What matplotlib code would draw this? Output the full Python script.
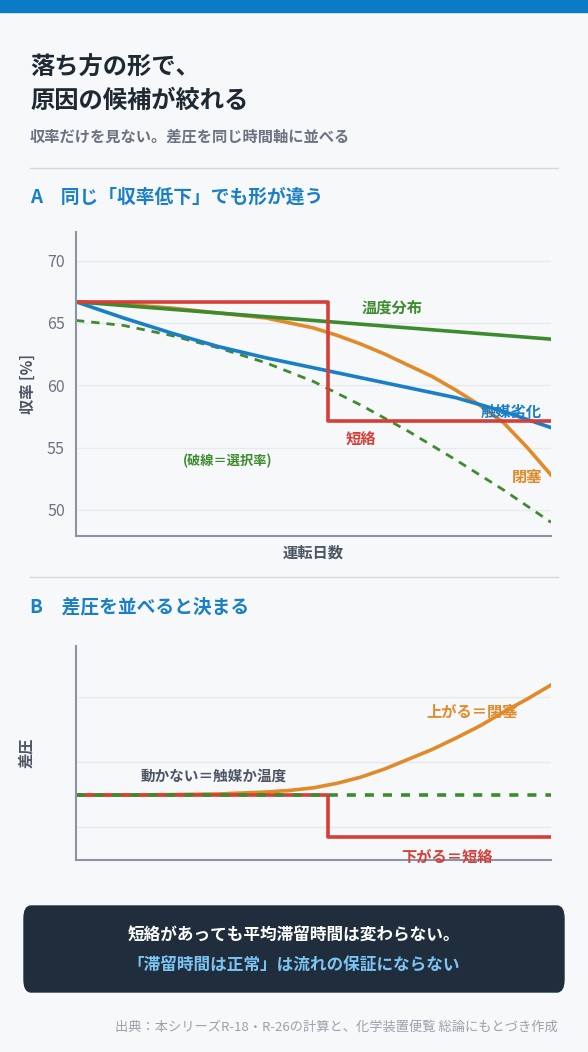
import matplotlib
matplotlib.use("Agg")
import matplotlib.pyplot as plt
from matplotlib.patches import FancyBboxPatch, Rectangle
from matplotlib.lines import Line2D

plt.rcParams['font.family'] = ['Noto Sans CJK JP', 'DejaVu Sans']

days = [0, 10, 20, 30, 40, 50, 60, 70, 80, 90, 100]
days_fine = [0, 10, 20, 30, 40, 45, 50, 55, 60, 65, 70, 75, 80, 85, 90, 95, 100]
temp_dist = [66.7, 66.4, 66.1, 65.8, 65.5, 65.2, 64.9, 64.6, 64.3, 64.0, 63.7]
cat_deact = [66.7, 65.4, 64.2, 63.1, 62.2, 61.4, 60.6, 59.8, 59.0, 57.9, 56.6]
clogging = [66.7, 66.5, 66.2, 65.8, 65.4, 65.0, 64.6, 64.0, 63.3, 62.5, 61.6, 60.7, 59.6, 58.4, 57.0, 55.0, 52.8]
selectivity = [65.2, 64.8, 64.0, 63.0, 61.8, 60.3, 58.4, 56.3, 54.0, 51.6, 49.0]
short_x = [0, 53, 53, 100]
short_y = [66.7, 66.7, 57.1, 57.1]
dp_clog = [0, 0, 0.01, 0.03, 0.09, 0.14, 0.22, 0.36, 0.55, 0.8, 1.1, 1.4, 1.75, 2.12, 2.55, 2.95, 3.38]
dp_flat = [0] * 11
dp_short_y = [0, 0, -1.3, -1.3]

BLUE = '#1a7fc6'; GREEN = '#3d8b2f'; ORANGE = '#e08a2a'; RED = '#d43f3a'
DARK = '#1f2933'; GRAY = '#6b7280'; AX = '#8a94a3'; BG = '#f7f8fa'

W, H = 588, 1052
fig = plt.figure(figsize=(W/100, H/100), dpi=100, facecolor=BG)

def fy(y): return 1 - y / H
def fx(x): return x / W

fig.patches.append(Rectangle((0, fy(12)), 1, 12/H, transform=fig.transFigure, color='#0a7cc6'))
fig.text(fx(30), fy(68), '落ち方の形で、', fontsize=17.5, weight='bold', color=DARK, va='center')
fig.text(fx(30), fy(101), '原因の候補が絞れる', fontsize=17.5, weight='bold', color=DARK, va='center')
fig.text(fx(30), fy(137), '収率だけを見ない。差圧を同じ時間軸に並べる', fontsize=11, color=GRAY, va='center', weight='bold')
for yy in (168, 577):
    fig.add_artist(Line2D([fx(30), fx(558)], [fy(yy), fy(yy)], color='#d5d9df', lw=1))
fig.text(fx(30), fy(197), 'A　同じ「収率低下」でも形が違う', fontsize=13.5, weight='bold', color=BLUE, va='center')
fig.text(fx(30), fy(607), 'B　差圧を並べると決まる', fontsize=13.5, weight='bold', color=BLUE, va='center')

def style(ax):
    ax.set_facecolor(BG)
    for s in ('top', 'right'):
        ax.spines[s].set_visible(False)
    for s in ('left', 'bottom'):
        ax.spines[s].set_color(AX); ax.spines[s].set_linewidth(1.5)
    ax.grid(axis='y', color='#e6e9ee', lw=1)
    ax.set_axisbelow(True)
    ax.set_xticks([])
    ax.set_xlim(0, 100)

# Chart A
axA = fig.add_axes([fx(76), fy(536), fx(551-76), (536-232)/H])
style(axA)
axA.set_ylim(47.9, 72.3)
axA.set_yticks([50, 55, 60, 65, 70])
axA.tick_params(axis='y', length=0, labelsize=11.5, labelcolor=GRAY, pad=8)
axA.plot(days, selectivity, color=GREEN, lw=2, ls=(0, (3, 2.5)))
axA.plot(days_fine, clogging, color=ORANGE, lw=2.6)
axA.plot(days, cat_deact, color=BLUE, lw=2.6)
axA.plot(days, temp_dist, color=GREEN, lw=2.6)
axA.plot(short_x, short_y, color=RED, lw=2.6)
axA.set_ylabel('収率 [%]', fontsize=11, weight='bold', color='#4b5563', labelpad=8)
axA.set_xlabel('運転日数', fontsize=11, weight='bold', color='#4b5563', labelpad=6)
kw = dict(fontsize=11, weight='bold', ha='center', va='center')
axA.text(66.5, 66.2, '温度分布', color=GREEN, **kw)
axA.text(91.7, 57.9, '触媒劣化', color=BLUE, **kw)
axA.text(60, 55.6, '短絡', color=RED, **kw)
axA.text(95, 52.6, '閉塞', color=ORANGE, **kw)
axA.text(32, 53.9, '(破線＝選択率)', color=GREEN, fontsize=9.5, weight='bold', ha='center', va='center')

# Chart B
axB = fig.add_axes([fx(76), fy(860), fx(551-76), (860-646)/H])
style(axB)
axB.set_ylim(-2.0, 4.58)
axB.set_yticks([-1, 1, 3])
axB.tick_params(axis='y', length=0, labelleft=False)
axB.plot(days_fine, dp_clog, color=ORANGE, lw=2.6)
axB.plot(short_x, dp_short_y, color=RED, lw=2.6)
axB.plot(days, dp_flat, color=GREEN, lw=2.6, ls=(0, (2.5, 2.5)))
axB.set_ylabel('差圧', fontsize=11, weight='bold', color='#4b5563', labelpad=30)
axB.text(83.4, 2.55, '上がる＝閉塞', color=ORANGE, **kw)
axB.text(29, 0.6, '動かない＝触媒か温度', color='#4b5563', fontsize=10.5, weight='bold', ha='center', va='center')
axB.text(78, -1.9, '下がる＝短絡', color=RED, **kw)

# Callout box
box = FancyBboxPatch((fx(24), fy(992)), fx(540), (992-906)/H, transform=fig.transFigure,
                     boxstyle='round,pad=0,rounding_size=0.012', color='#1f2d3d')
fig.patches.append(box)
fig.text(0.5, fy(936), '短絡があっても平均滞留時間は変わらない。', fontsize=12, weight='bold', color='white', ha='center', va='center')
fig.text(0.5, fy(966), '「滞留時間は正常」は流れの保証にならない', fontsize=12, weight='bold', color='#7cc4f2', ha='center', va='center')
fig.text(fx(558), fy(1027), '出典：本シリーズR-18・R-26の計算と、化学装置便覧 総論にもとづき作成',
         fontsize=9.5, color='#9aa1ab', ha='right', va='center')

fig.savefig('out.png', dpi=100, facecolor=BG)
